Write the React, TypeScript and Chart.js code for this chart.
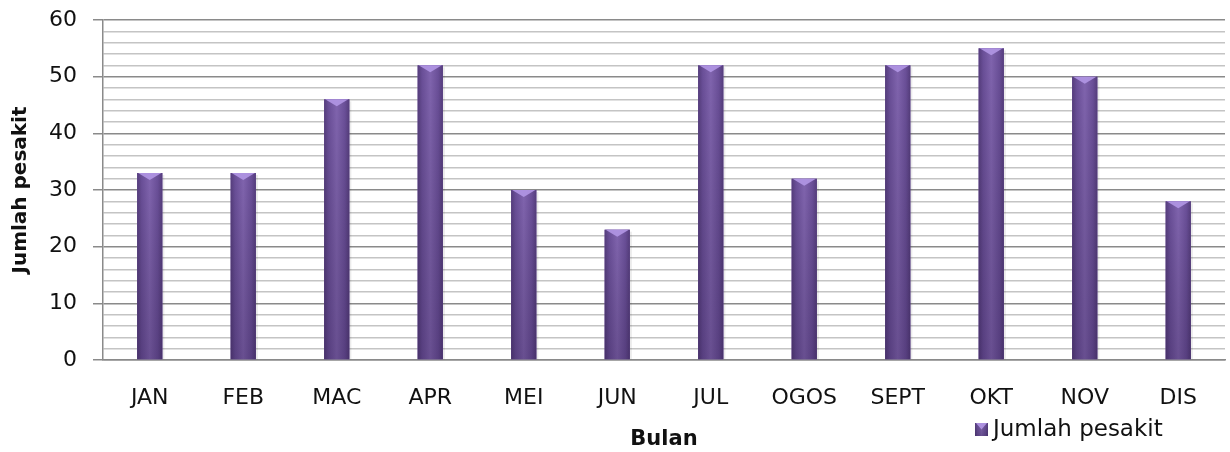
import React, { useEffect, useRef } from "react";
import { Chart, registerables } from "chart.js";

Chart.register(...registerables);

const months = ["JAN", "FEB", "MAC", "APR", "MEI", "JUN", "JUL", "OGOS", "SEPT", "OKT", "NOV", "DIS"];
const patients = [33, 33, 46, 52, 30, 23, 52, 32, 52, 55, 50, 28];
const seriesLabel = "Jumlah pesakit";
const xTitle = "Bulan";
const yTitle = "Jumlah pesakit";
const yMin = 0;
const yMax = 60;
const yStep = 2;
const yLabelStep = 10;

const FONT = "'DejaVu Sans', sans-serif";

function paintBar(ctx: CanvasRenderingContext2D, left: number, right: number, top: number, bottom: number) {
  const cx = (left + right) / 2;
  const g = ctx.createLinearGradient(left, 0, right, 0);
  g.addColorStop(0, "#553d7c");
  g.addColorStop(0.18, "#6a4f98");
  g.addColorStop(0.5, "#8064ae");
  g.addColorStop(0.82, "#6a4f98");
  g.addColorStop(1, "#553d7c");
  ctx.fillStyle = g;
  ctx.fillRect(left, top, right - left, bottom - top);
  const v = ctx.createLinearGradient(0, top, 0, bottom);
  v.addColorStop(0, "rgba(0,0,0,0)");
  v.addColorStop(1, "rgba(20,5,40,0.22)");
  ctx.fillStyle = v;
  ctx.fillRect(left, top, right - left, bottom - top);
  // top bevel
  ctx.beginPath();
  ctx.moveTo(left + 1, top);
  ctx.lineTo(right - 1, top);
  ctx.lineTo(cx, top + Math.min(7, (bottom - top) / 2));
  ctx.closePath();
  ctx.fillStyle = "rgba(175,148,225,0.95)";
  ctx.fill();
}

const barPainter = {
  id: "barPainter",
  afterDatasetsDraw(chart: any) {
    const ctx = chart.ctx as CanvasRenderingContext2D;
    const meta = chart.getDatasetMeta(0);
    ctx.save();
    meta.data.forEach((el: any) => {
      const { x, y, base, width } = el.getProps(["x", "y", "base", "width"], true);
      const left = x - width / 2;
      const right = x + width / 2;
      ctx.fillStyle = "rgba(0,0,0,0.08)";
      ctx.fillRect(right, y + 2, 2, base - y - 2);
      paintBar(ctx, left, right, y, base);
    });
    ctx.restore();
  },
};

const legendPainter = {
  id: "legendPainter",
  afterDraw(chart: any) {
    const ctx = chart.ctx as CanvasRenderingContext2D;
    const label = chart.data.datasets[0].label as string;
    const sx = 975;
    const sy = 423;
    const s = 13;
    ctx.save();
    paintBar(ctx, sx, sx + s, sy, sy + s);
    ctx.font = `23px ${FONT}`;
    ctx.fillStyle = "#111";
    ctx.textBaseline = "middle";
    ctx.textAlign = "left";
    ctx.fillText(label, sx + s + 5, sy + s / 2 + 1);
    ctx.restore();
  },
};

export default function App() {
  const ref = useRef<HTMLCanvasElement | null>(null);
  useEffect(() => {
    if (!ref.current) return;
    const chart = new Chart(ref.current, {
      type: "bar",
      data: {
        labels: months,
        datasets: [
          {
            label: seriesLabel,
            data: patients,
            backgroundColor: "#7a5ca8",
            borderWidth: 0,
            barPercentage: 0.27,
            categoryPercentage: 1,
          },
        ],
      },
      options: {
        animation: false,
        responsive: false,
        maintainAspectRatio: false,
        layout: { padding: { left: 0, right: 5, top: 20, bottom: 0 } },
        plugins: { legend: { display: false }, tooltip: { enabled: false } },
        scales: {
          x: {
            afterFit: (scale: any) => {
              scale.height = 92;
              scale.paddingLeft = 0;
              scale.paddingRight = 0;
            },
            grid: { display: false, drawTicks: false },
            border: { display: true, color: "#8a8a8a", width: 1.5 },
            ticks: { font: { family: FONT, size: 22 }, color: "#111", padding: 25 },
            title: {
              display: true,
              text: xTitle,
              font: { family: FONT, size: 21, weight: "bold" },
              color: "#111",
              padding: { top: 0, bottom: 0 },
            },
          },
          y: {
            min: yMin,
            max: yMax,
            afterFit: (scale: any) => {
              scale.width = 103;
              scale.paddingTop = 0;
              scale.paddingBottom = 0;
            },
            ticks: {
              stepSize: yStep,
              autoSkip: false,
              font: { family: FONT, size: 22 },
              color: "#111",
              padding: 16,
              callback: (v: any) => (Number(v) % yLabelStep === 0 ? String(v) : ""),
            },
            grid: {
              color: (c: any) => (c.tick && c.tick.value % yLabelStep === 0 ? "#8a8a8a" : "#c4c4c4"),
              lineWidth: 1.5,
              tickLength: 10,
              tickColor: (c: any) => (c.tick && c.tick.value % yLabelStep === 0 ? "#8a8a8a" : "rgba(0,0,0,0)"),
            },
            border: { display: true, color: "#8a8a8a", width: 1.5 },
            title: {
              display: true,
              text: yTitle,
              font: { family: FONT, size: 20, weight: "bold" },
              color: "#111",
              padding: { top: 9, bottom: 0 },
            },
          },
        },
      },
      plugins: [barPainter, legendPainter],
    });
    return () => chart.destroy();
  }, []);
  return (
    <div style={{ position: "absolute", left: 0, top: 0, width: 1230, height: 452, background: "#fff" }}>
      <canvas ref={ref} width={1230} height={452} style={{ display: "block" }} />
    </div>
  );
}
